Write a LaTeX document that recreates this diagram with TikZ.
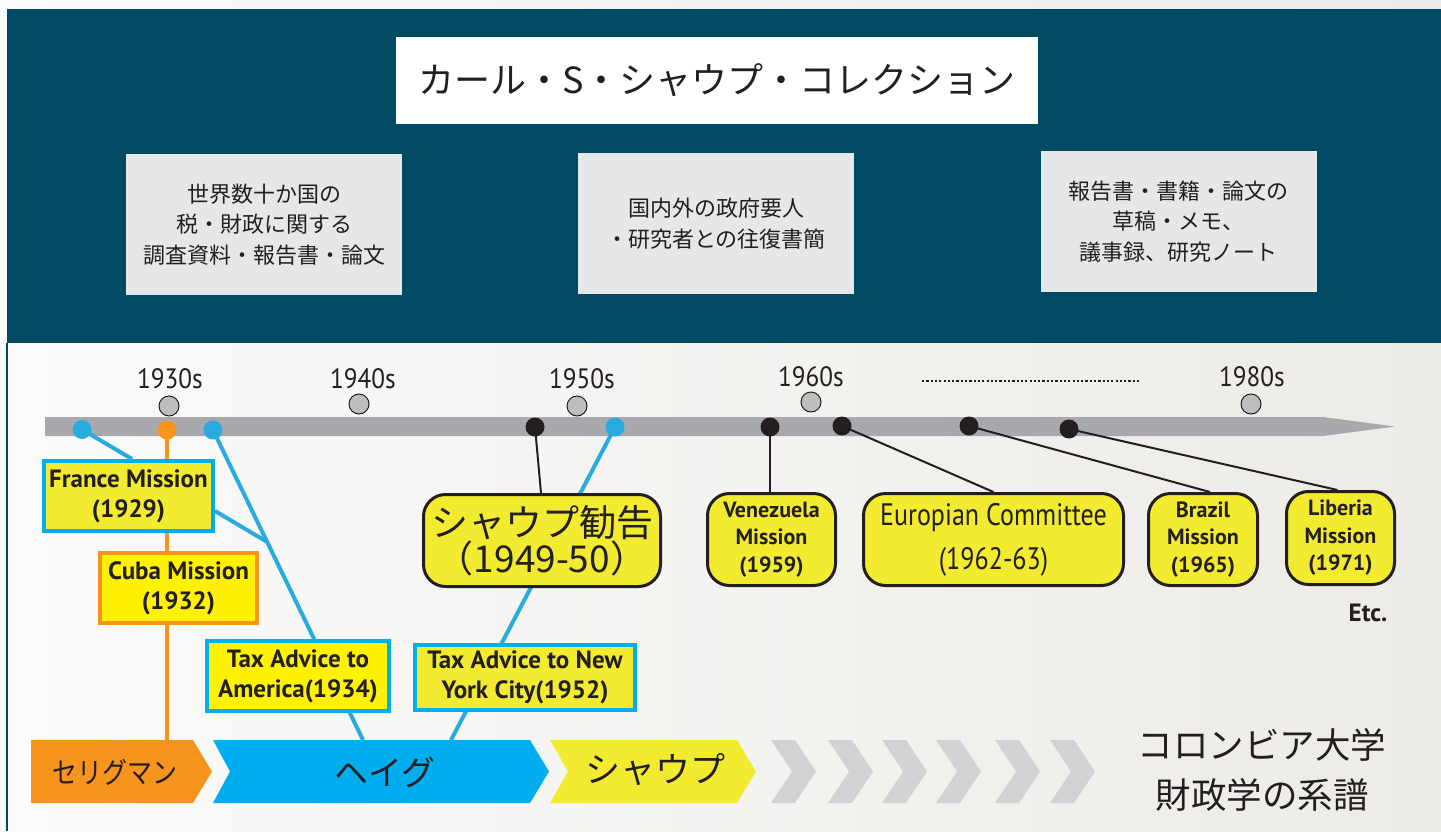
\documentclass[tikz,border=0pt]{standalone}
\usepackage{fontspec}
\setmainfont{PT Sans}
\newfontfamily\jp{Noto Sans CJK JP}
\newfontfamily\jpc[FakeStretch=0.86]{Noto Sans CJK JP}
\newfontfamily\cond[FakeStretch=0.9]{PT Sans}
\newfontfamily\condl[FakeStretch=0.84]{PT Sans}
\usetikzlibrary{calc}
\definecolor{panelteal}{HTML}{004B63}
\definecolor{boxgrey}{HTML}{E6E7E8}
\definecolor{bargrey}{HTML}{A7A9AC}
\definecolor{skyblue}{HTML}{00AEEF}
\definecolor{dotblue}{HTML}{29ABE2}
\definecolor{orng}{HTML}{F7941D}
\definecolor{yel}{HTML}{F2EB30}
\definecolor{yelb}{HTML}{FFF200}
\definecolor{chev}{HTML}{D1D3D4}
\definecolor{ink}{HTML}{231F20}
\definecolor{decgrey}{HTML}{BCBEC0}
\definecolor{bgl}{HTML}{FBFBFB}
\definecolor{bgr}{HTML}{ECEBE6}
\pgfdeclarelayer{back}
\pgfdeclarelayer{mid}
\pgfsetlayers{back,mid,main}
\tikzset{
  infobox/.style={fill=boxgrey, text=ink, align=center, inner sep=0pt,
    minimum width=276, minimum height=141, font=\jp\fontsize{22}{30.5}\selectfont},
  sqbox/.style={draw=skyblue, line width=4, fill=yel, text=ink, align=center, inner sep=0pt,
    font=\bfseries\fontsize{25}{30}\selectfont},
  rbox/.style={draw=ink, line width=3, fill=yel, text=ink, align=center, inner sep=0pt,
    rounded corners=22, font=\bfseries\fontsize{22}{27.5}\selectfont},
  decade/.style={circle, fill=decgrey, draw=ink, line width=1, minimum size=20, inner sep=0pt},
  declabel/.style={text=ink, font=\cond\fontsize{28}{28}\selectfont, inner sep=0pt},
  dotb/.style={circle, fill=dotblue, minimum size=19, inner sep=0pt},
  doto/.style={circle, fill=orng, minimum size=19, inner sep=0pt},
  dotk/.style={circle, fill=ink, minimum size=19, inner sep=0pt},
  blueline/.style={draw=dotblue, line width=4},
  orangeline/.style={draw=orng, line width=4},
  blackline/.style={draw=ink, line width=2},
  arrowtext/.style={text=ink, inner sep=0pt, font=\jp\fontsize{34}{34}\selectfont},
}
\begin{document}
\begin{tikzpicture}[x=1pt,y=-1pt]
\useasboundingbox (0,0) rectangle (1441,831);
\begin{pgfonlayer}{back}
  \shade[left color=bgl, right color=bgr] (0,0) rectangle (1441,831);
  \fill[panelteal] (7,9) rectangle (1441,343);
  \draw[panelteal, line width=2] (7,343) -- (7,831);
  \fill[bargrey] (45,417) -- (1323,417) -- (1395,426.5) -- (1323,436) -- (45,436) -- cycle;
  \draw[ink, line width=2.5, dash pattern=on 2.2pt off 2.1pt] (922,381) -- (1140,381);
  % lineage arrows
  \fill[orng] (31,740) -- (193,740) -- (212,771.5) -- (193,803) -- (31,803) -- cycle;
  \fill[skyblue] (213,740) -- (530,740) -- (549,771.5) -- (530,803) -- (213,803) -- (230,771.5) -- cycle;
  \fill[yel] (550,740) -- (737,740) -- (756,771.5) -- (737,803) -- (550,803) -- (568,771.5) -- cycle;
  \foreach \x in {771,828,882,936,995,1050}{
    \fill[chev] (\x,740) -- (\x+24,740) -- (\x+45,771.5) -- (\x+24,803) -- (\x,803) -- (\x+21,771.5) -- cycle;
  }
\end{pgfonlayer}

% title and info boxes
\node[fill=white, text=ink, minimum width=642, minimum height=87, inner sep=0pt,
  font=\jp\fontsize{36}{36}\selectfont] (title) at (717,80.5) {カール・S・シャウプ・コレクション};
\node[infobox] (info1) at (264,224.5) {世界数十か国の\\税・財政に関する\\調査資料・報告書・論文};
\node[infobox] (info2) at (716,223.5) {国内外の政府要人\\・研究者との往復書簡};
\node[infobox] (info3) at (1178.5,221.5) {報告書・書籍・論文の\\草稿・メモ、\\議事録、研究ノート};

% decades
\node[declabel] (l30) at (170,379) {1930s};
\node[declabel] (l40) at (363,379) {1940s};
\node[declabel] (l50) at (582,379) {1950s};
\node[declabel] (l60) at (811,377) {1960s};
\node[declabel] (l80) at (1252,377) {1980s};
\node[decade] (c30) at (169,406) {};
\node[decade] (c40) at (359,404) {};
\node[decade] (c50) at (577,406) {};
\node[decade] (c60) at (811,402) {};
\node[decade] (c80) at (1251,404) {};

% timeline dots
\node[dotb] (d1) at (82,429.5) {};
\node[doto] (d2) at (167,430) {};
\node[dotb] (d3) at (213,430) {};
\node[dotk] (k1) at (535,427) {};
\node[dotb] (d5) at (615,427) {};
\node[dotk] (k2) at (770,427) {};
\node[dotk] (k3) at (842,426) {};
\node[dotk] (k4) at (969,426) {};
\node[dotk] (k5) at (1069,429) {};

% event boxes
\node[sqbox, minimum width=169, minimum height=70] (fr) at (128.5,496) {France Mission\\(1929)};
\node[sqbox, draw=orng, fill=yelb, minimum width=157, minimum height=70] (cu) at (178.5,588) {Cuba Mission\\(1932)};
\node[sqbox, fill=yelb, minimum width=182, minimum height=70] (am) at (298,676) {Tax Advice to\\America(1934)};
\node[sqbox, minimum width=220, minimum height=65] (ny) at (525,677.5) {Tax Advice to New\\York City(1952)};
\node[rbox, minimum width=237, minimum height=92, font=\jp\fontsize{37}{35}\selectfont] (sh) at (542,540.5) {シャウプ勧告\\（1949-50）};
\node[rbox, minimum width=128, minimum height=92] (ve) at (771.5,539.5) {Venezuela\\Mission\\(1959)};
\node[rbox, minimum width=260, minimum height=92, font=\condl\fontsize{31}{44}\selectfont] (eu) at (993.5,539.5) {Europian Committee\\(1962-63)};
\node[rbox, minimum width=109, minimum height=92] (br) at (1203,539.5) {Brazil\\Mission\\(1965)};
\node[rbox, minimum width=108, minimum height=93] (li) at (1340.5,538) {Liberia\\Mission\\(1971)};
\node[text=ink, inner sep=0pt, font=\bfseries\fontsize{25}{25}\selectfont] (etc) at (1368,613) {Etc.};

% lineage labels
\node[arrowtext, font=\jpc\fontsize{29}{29}\selectfont] (sel) at (115,772) {セリグマン};
\node[arrowtext] (hai) at (385,772) {ヘイグ};
\node[arrowtext, font=\jp\fontsize{35}{35}\selectfont] (shp) at (655,770) {シャウプ};
\node[text=ink, inner sep=0pt, align=center, font=\jp\fontsize{35.5}{50}\selectfont] (col) at (1262,770) {コロンビア大学\\財政学の系譜};

\coordinate (selTop) at (167,740);
\coordinate (haiA) at (363,740);
\coordinate (haiB) at (451,740);
\coordinate (junc) at ($(d3.center)!0.361!(haiA)$);

\begin{pgfonlayer}{mid}
  \draw[blueline] (d1.center) -- ([xshift=3.5]fr.north);
  \draw[orangeline] (d2.center) -- (selTop);
  \draw[blueline] (d3.center) -- (haiA);
  \draw[blueline] ([yshift=-15]fr.east) -- (junc);
  \draw[blueline] (d5.center) -- (haiB);
  \draw[blackline] (k1.center) -- ([xshift=-1]sh.north);
  \draw[blackline] (k2.center) -- (ve.north -| k2);
  \draw[blackline] (k3.center) -- (eu.north);
  \draw[blackline] (k4.center) -- ([xshift=7]br.north);
  \draw[blackline] (k5.center) -- ([xshift=-3]li.north);
\end{pgfonlayer}
\end{tikzpicture}
\end{document}
